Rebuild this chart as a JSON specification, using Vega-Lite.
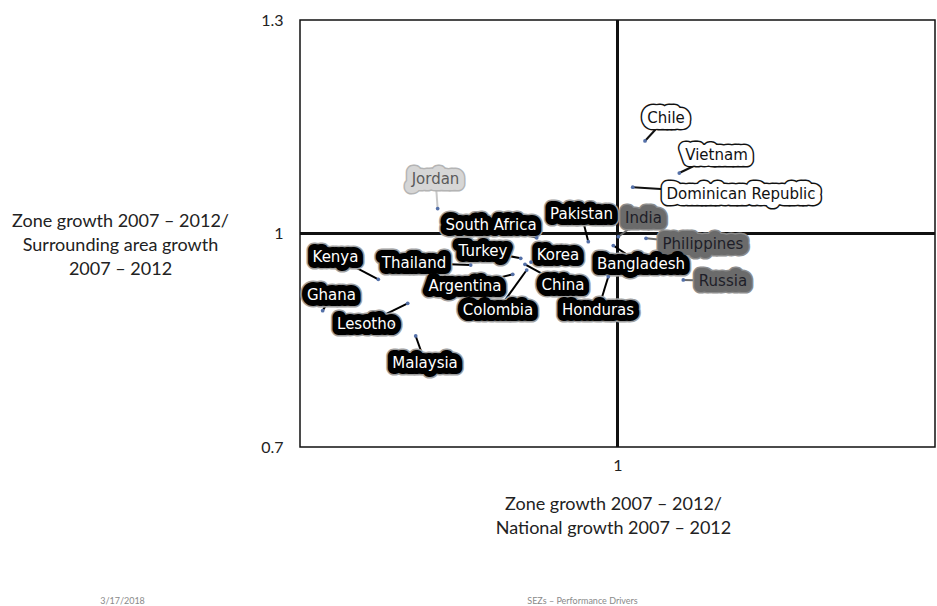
{
  "$schema": "https://vega.github.io/schema/vega-lite/v6.json",
  "width": 635,
  "height": 427,
  "autosize": {"type": "none"},
  "padding": {"left": 300, "top": 20, "right": 2, "bottom": 159},
  "background": "#ffffff",
  "config": {
    "view": {"stroke": "#111111", "strokeWidth": 1.5},
    "axis": {"grid": false, "domain": false, "ticks": false, "labelFont": "Lato", "titleFont": "Lato", "titleFontWeight": "normal", "labelColor": "#222222", "titleColor": "#222222"}
  },
  "data": {
    "values": [
      {"name": "Chile", "x": 1.0433, "y": 1.130, "lx": 1.0764, "ly": 1.1623},
      {"name": "Vietnam", "x": 1.0973, "y": 1.085, "lx": 1.1559, "ly": 1.1103},
      {"name": "Dominican Republic", "x": 1.0240, "y": 1.065, "lx": 1.1945, "ly": 1.0555},
      {"name": "Jordan", "x": 0.7168, "y": 1.035, "lx": 0.7134, "ly": 1.0766},
      {"name": "South Africa", "x": 0.8728, "y": 0.994, "lx": 0.8008, "ly": 1.0119},
      {"name": "Pakistan", "x": 0.954, "y": 0.9885, "lx": 0.9433, "ly": 1.0267},
      {"name": "India", "x": 1.0013, "y": 0.9955, "lx": 1.0409, "ly": 1.0218},
      {"name": "Philippines", "x": 1.0449, "y": 0.9932, "lx": 1.1346, "ly": 0.9852},
      {"name": "Bangladesh", "x": 0.9934, "y": 0.9831, "lx": 1.0370, "ly": 0.9571},
      {"name": "Russia", "x": 1.1036, "y": 0.9347, "lx": 1.1661, "ly": 0.9332},
      {"name": "Korea", "x": 0.8638, "y": 0.9599, "lx": 0.9063, "ly": 0.9698},
      {"name": "Turkey", "x": 0.8476, "y": 0.9651, "lx": 0.7882, "ly": 0.9754},
      {"name": "Thailand", "x": 0.7688, "y": 0.9557, "lx": 0.6795, "ly": 0.9585},
      {"name": "Kenya", "x": 0.6233, "y": 0.9356, "lx": 0.5559, "ly": 0.9670},
      {"name": "Ghana", "x": 0.5357, "y": 0.8915, "lx": 0.5496, "ly": 0.9129},
      {"name": "Lesotho", "x": 0.6696, "y": 0.9019, "lx": 0.6047, "ly": 0.8735},
      {"name": "Malaysia", "x": 0.6822, "y": 0.856, "lx": 0.6969, "ly": 0.8187},
      {"name": "Argentina", "x": 0.835, "y": 0.9427, "lx": 0.7598, "ly": 0.9262},
      {"name": "Colombia", "x": 0.857, "y": 0.9487, "lx": 0.8118, "ly": 0.8925},
      {"name": "China", "x": 0.8543, "y": 0.9567, "lx": 0.9142, "ly": 0.9276},
      {"name": "Honduras", "x": 0.9855, "y": 0.9393, "lx": 0.9693, "ly": 0.8925}
    ]
  },
  "layer": [
    {
      "layer": [
        {
          "mark": {"type": "rule", "color": "#111111", "strokeWidth": 1.5},
          "encoding": {
            "x": {"datum": 1, "type": "quantitative", "scale": {"domain": [0.5, 1.5], "nice": false, "zero": false},
              "axis": {"values": [1], "labelExpr": "format(datum.value, '~g')", "labelFontSize": 16, "labelPadding": 10,
                "title": ["Zone growth 2007 – 2012/", "National growth 2007 – 2012"],
                "titleFontSize": 18, "titleLineHeight": 24, "titleX": 313, "titleY": 62, "titleBaseline": "alphabetic", "titleAnchor": null}},
            "y": {"datum": 1, "type": "quantitative", "scale": {"domain": [0.7, 1.3], "nice": false, "zero": false},
              "axis": {"values": [0.7, 1, 1.3], "labelFontSize": 16, "labelPadding": 17, "labelExpr": "format(datum.value, '~g')",
                "title": ["Zone growth 2007 – 2012/", "Surrounding area growth", "2007 – 2012"],
                "titleAngle": 0, "titleFontSize": 18, "titleLineHeight": 24, "titleX": -180, "titleY": 206, "titleAlign": "center", "titleBaseline": "alphabetic"}}
          }
        },
        {
          "mark": {"type": "rule", "color": "#111111", "strokeWidth": 1.5},
          "encoding": {"y": {"datum": 1, "type": "quantitative"}}
        },
        {
          "mark": {"type": "rule", "color": "#111111", "strokeWidth": 1.5},
          "encoding": {"x": {"datum": 1, "type": "quantitative"}}
        },
        {
          "mark": {"type": "rule", "strokeWidth": 2},
          "encoding": {
            "x": {"field": "x", "type": "quantitative"},
            "y": {"field": "y", "type": "quantitative"},
            "x2": {"field": "lx"},
            "y2": {"field": "ly"},
            "color": {"condition": [
              {"test": "datum.x > 1 && datum.y > 1", "value": "#111111"},
              {"test": "datum.x > 1 && datum.y <= 1", "value": "#6b6b6b"},
              {"test": "datum.x <= 1 && datum.y > 1", "value": "#c8c8c8"}
            ], "value": "#000000"}
          }
        },
        {
          "mark": {"type": "text", "font": "DejaVu Sans", "fontSize": 15, "align": "center", "baseline": "middle", "strokeWidth": 15, "strokeJoin": "round"},
          "encoding": {
            "x": {"field": "lx", "type": "quantitative"},
            "y": {"field": "ly", "type": "quantitative"},
            "text": {"field": "name"},
            "fill": {"condition": [
              {"test": "datum.x > 1 && datum.y > 1", "value": "#111111"},
              {"test": "datum.x > 1 && datum.y <= 1", "value": "#8c8c8c"},
              {"test": "datum.x <= 1 && datum.y > 1", "value": "#b4b4b4"}
            ], "value": "#a0a0a0"},
            "stroke": {"condition": [
              {"test": "datum.x > 1 && datum.y > 1", "value": "#111111"},
              {"test": "datum.x > 1 && datum.y <= 1", "value": "#8c8c8c"},
              {"test": "datum.x <= 1 && datum.y > 1", "value": "#b4b4b4"}
            ], "value": "#a0a0a0"}
          }
        },
        {
          "mark": {"type": "text", "font": "DejaVu Sans", "fontSize": 15, "align": "center", "baseline": "middle", "strokeWidth": 12, "strokeJoin": "round"},
          "encoding": {
            "x": {"field": "lx", "type": "quantitative"},
            "y": {"field": "ly", "type": "quantitative"},
            "text": {"field": "name"},
            "fill": {"condition": [
              {"test": "datum.x > 1 && datum.y > 1", "value": "#ffffff"},
              {"test": "datum.x > 1 && datum.y <= 1", "value": "#6b6b6b"},
              {"test": "datum.x <= 1 && datum.y > 1", "value": "#d6d6d6"}
            ], "value": "#000000"},
            "stroke": {"condition": [
              {"test": "datum.x > 1 && datum.y > 1", "value": "#ffffff"},
              {"test": "datum.x > 1 && datum.y <= 1", "value": "#6b6b6b"},
              {"test": "datum.x <= 1 && datum.y > 1", "value": "#d6d6d6"}
            ], "value": "#000000"}
          }
        },
        {
          "mark": {"type": "text", "font": "DejaVu Sans", "fontSize": 15, "align": "center", "baseline": "middle"},
          "encoding": {
            "x": {"field": "lx", "type": "quantitative"},
            "y": {"field": "ly", "type": "quantitative"},
            "text": {"field": "name"},
            "fill": {"condition": [
              {"test": "datum.x > 1 && datum.y > 1", "value": "#111111"},
              {"test": "datum.x > 1 && datum.y <= 1", "value": "#1e1e28"},
              {"test": "datum.x <= 1 && datum.y > 1", "value": "#5a5a5a"}
            ], "value": "#ffffff"}
          }
        },
        {
          "mark": {"type": "circle", "size": 14, "color": "#5470a8", "opacity": 1},
          "encoding": {
            "x": {"field": "x", "type": "quantitative"},
            "y": {"field": "y", "type": "quantitative"}
          }
        }
      ]
    },
    {
      "mark": {"type": "rule", "opacity": 0},
      "encoding": {
        "x": {"datum": 1, "type": "quantitative", "scale": {"domain": [0.5, 1.5], "nice": false, "zero": false},
          "axis": {"orient": "bottom", "labels": false, "title": "SEZs – Performance Drivers", "titleFont": "Lato", "titleFontSize": 9, "titleColor": "#8a8a8a", "titleX": 282, "titleY": 156, "titleBaseline": "alphabetic", "titleAnchor": null}},
        "y": {"datum": 1, "type": "quantitative", "scale": {"domain": [0.7, 1.3], "nice": false, "zero": false},
          "axis": {"orient": "left", "labels": false, "title": "3/17/2018", "titleAngle": 0, "titleFont": "Lato", "titleFontSize": 9, "titleColor": "#8a8a8a", "titleX": -178, "titleY": 583, "titleAlign": "center", "titleBaseline": "alphabetic"}}
      }
    }
  ],
  "resolve": {"scale": {"x": "independent", "y": "independent"}, "axis": {"x": "independent", "y": "independent"}}
}
